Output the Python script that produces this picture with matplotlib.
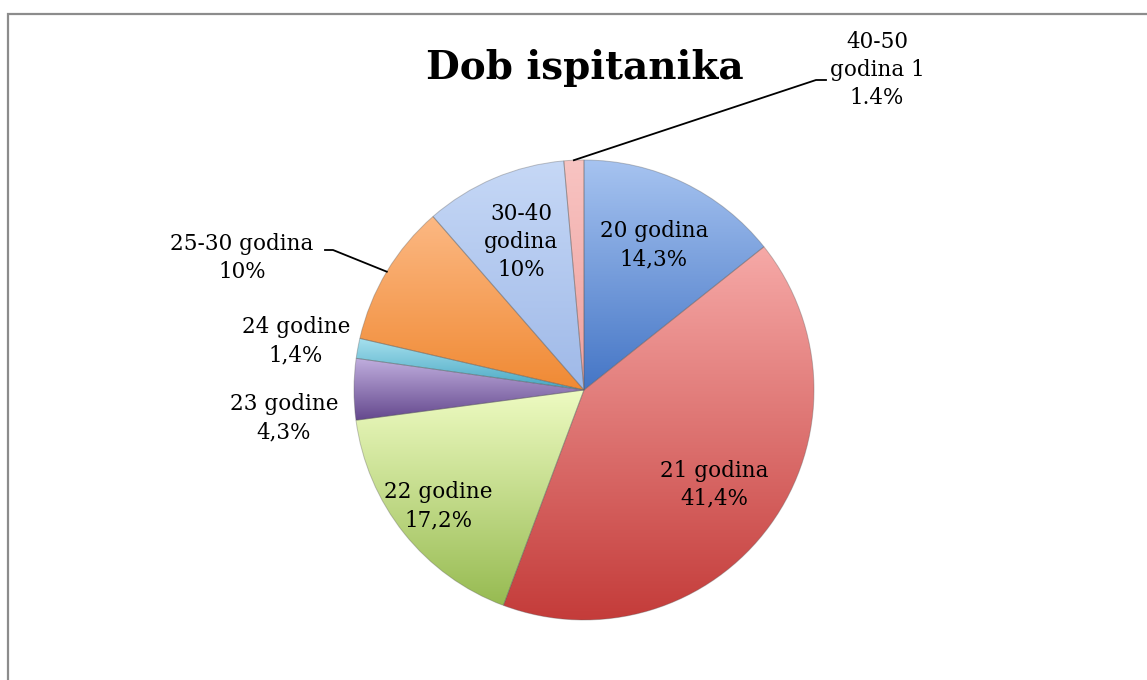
import numpy as np
import matplotlib
matplotlib.use("Agg")
import matplotlib.pyplot as plt
from matplotlib.colors import to_rgb

# data
ageGroups = ["20 godina", "21 godina", "22 godine", "23 godine", "24 godine",
             "25-30 godina", "30-40 godina", "40-50 godina 1"]
shares = [14.3, 41.4, 17.2, 4.3, 1.4, 10, 10, 1.4]
shareLabels = ["14,3%", "41,4%", "17,2%", "4,3%", "1,4%", "10%", "10%", "1.4%"]

# light (top) / dark (bottom) colour of each slice
topColors = ["#a6c3f0", "#f6a9a7", "#eefbc2", "#c0aede", "#a6e0ee", "#fcb883", "#c6d8f6", "#f8c4c2"]
botColors = ["#4576c6", "#c43c3a", "#97bb52", "#65498e", "#46a6c2", "#f08a34", "#9fb9e8", "#eea09e"]

W, H = 1147, 680
fig = plt.figure(figsize=(W / 100, H / 100), dpi=100)
ax = fig.add_axes([0, 0, 1, 1])

cx, cy, R = 584, 290, 230
explode = [0, 0, 0, 0, 0, 0, 0, 0.02]

wedges, _ = ax.pie(shares, center=(cx, cy), radius=R, startangle=90,
                   counterclock=False, explode=explode,
                   wedgeprops=dict(linewidth=0.7, edgecolor=(0.35, 0.35, 0.35, 0.35)),
                   frame=True)
ax.set_xlim(0, W)
ax.set_ylim(0, H)
ax.set_aspect("equal")
ax.axis("off")

# vertical gradient inside every wedge
for w, c0, c1 in zip(wedges, topColors, botColors):
    th = np.radians(np.linspace(w.theta1, w.theta2, 60))
    wx, wy = w.center
    xs = np.concatenate([[wx], wx + w.r * np.cos(th)])
    ys = np.concatenate([[wy], wy + w.r * np.sin(th)])
    t = np.linspace(0, 1, 100)[:, None]
    grad = (1 - t) * np.array(to_rgb(c1)) + t * np.array(to_rgb(c0))
    img = ax.imshow(grad[:, None, :], origin="lower", aspect="auto",
                    extent=[xs.min(), xs.max(), ys.min(), ys.max()],
                    interpolation="bilinear", zorder=1.5)
    img.set_clip_path(w)
    w.set_facecolor("none")
    w.set_zorder(2)

serif = ["DejaVu Serif"]
fs = 15.5
ls = 1.35


def mid(i):
    w = wedges[i]
    return np.radians((w.theta1 + w.theta2) / 2)


# labels inside the slices
inside = {0: 0.70, 1: 0.70, 2: 0.81, 6: 0.70}
for i, f in inside.items():
    a = mid(i)
    name = ageGroups[i]
    if i == 6:
        name = "30-40\ngodina"
    ax.text(cx + f * R * np.cos(a), cy + f * R * np.sin(a), name + "\n" + shareLabels[i],
            ha="center", va="center", family=serif, fontsize=fs, linespacing=ls, zorder=5)

# labels outside
ax.text(284, 262, ageGroups[3] + "\n" + shareLabels[3], ha="center", va="center",
        family=serif, fontsize=fs, linespacing=ls)
ax.text(296, 339, ageGroups[4] + "\n" + shareLabels[4], ha="center", va="center",
        family=serif, fontsize=fs, linespacing=ls)
ax.text(242, 422, ageGroups[5] + "\n" + shareLabels[5], ha="center", va="center",
        family=serif, fontsize=fs, linespacing=ls)
ax.text(877, 610, "40-50\ngodina 1\n" + shareLabels[7], ha="center", va="center",
        family=serif, fontsize=fs, linespacing=ls)

# leader lines
for i, (kx, ex) in {5: (333, 325), 7: (816, 826)}.items():
    a = mid(i)
    w = wedges[i]
    px = w.center[0] + R * np.cos(a)
    py = w.center[1] + R * np.sin(a)
    ky = 430 if i == 5 else 600
    ax.plot([px, kx, ex], [py, ky, ky], color="black", lw=1.3, zorder=6)

ax.text(585, 612, "Dob ispitanika", ha="center", va="center",
        family=serif, fontsize=28, fontweight="bold")

# chart frame (only left and top edge visible)
ax.add_patch(plt.Rectangle((8, -20), 1200, 686, fill=False, edgecolor="#8c8c8c", lw=1.6))

fig.savefig("out.png", dpi=100)
